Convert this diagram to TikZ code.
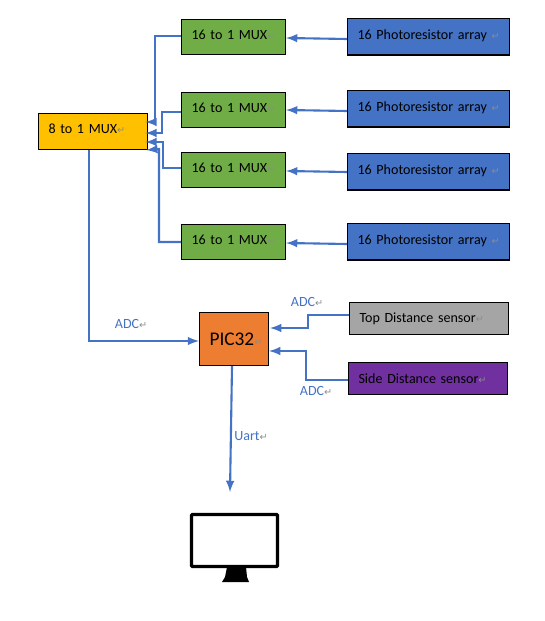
\documentclass[tikz,border=0pt]{standalone}
\usepackage{fontspec}
\setmainfont{Carlito}
\newfontfamily\markfont{DejaVu Sans}
\newcommand{\retmark}{\makebox[0pt][l]{\markfont\fontsize{5.5pt}{6pt}\selectfont\textcolor{black!45}{↵}}}
\definecolor{muxgreen}{HTML}{70AD47}
\definecolor{muxyellow}{HTML}{FFC000}
\definecolor{arrayblue}{HTML}{4472C4}
\definecolor{picorange}{HTML}{ED7D31}
\definecolor{topgray}{HTML}{A5A5A5}
\definecolor{sidepurple}{HTML}{7030A0}
\definecolor{linkblue}{HTML}{4472C4}
\begin{document}
\begin{tikzpicture}[x=0.02cm,y=-0.02cm]
	\tikzstyle{every node}=[font=\fontsize{8pt}{10pt}\selectfont]
	\tikzstyle{blockbox}=[draw=black, line width=0.6pt, anchor=north west, inner xsep=0.2cm, inner ysep=0cm, align=left]
	\tikzstyle{muxbox}=[blockbox, fill=muxgreen, text width=1.68cm, minimum height=0.7cm, text depth=0.08cm]
	\tikzstyle{arraybox}=[blockbox, fill=arrayblue, text width=2.84cm, minimum height=0.73cm, text depth=0.1cm]
	\tikzstyle{sensorbox}=[blockbox, text width=2.78cm, minimum height=0.64cm]
	\tikzstyle{link}=[draw=linkblue, line width=1.2pt, -latex]
	\tikzstyle{linklabel}=[text=linkblue, inner sep=0pt]
	
	\useasboundingbox (0,0) rectangle (544,621);
	
	\node[muxbox] (mux1) at (181,19) {16 to 1 MUX\retmark};
	\node[muxbox] (mux2) at (181,92) {16 to 1 MUX\retmark};
	\node[muxbox] (mux3) at (181,152) {16 to 1 MUX\retmark};
	\node[muxbox] (mux4) at (181,224) {16 to 1 MUX\retmark};
	
	\node[arraybox] (array1) at (347,18) {16 Photoresistor array\ \retmark};
	\node[arraybox] (array2) at (347,90) {16 Photoresistor array\ \retmark};
	\node[arraybox] (array3) at (347,153) {16 Photoresistor array\ \retmark};
	\node[arraybox] (array4) at (347,223) {16 Photoresistor array\ \retmark};
	
	\node[blockbox, fill=muxyellow, text width=1.78cm, minimum height=0.72cm, text depth=0.12cm] (mainmux) at (38,113) {8 to 1 MUX\retmark};
	\node[blockbox, fill=picorange, text width=0.98cm, minimum height=1.06cm, font=\fontsize{11pt}{12pt}\selectfont] (pic) at (199,312) {PIC32\retmark};
	\node[sensorbox, fill=topgray] (topsensor) at (349,302) {Top Distance sensor\retmark};
	\node[sensorbox, fill=sidepurple] (sidesensor) at (348,362) {Side Distance sensor\retmark};
	
	\draw[link] (array1.west |- 0,39) -- (mux1.east |- 0,38);
	\draw[link] (array2.west |- 0,111) -- (mux2.east |- 0,110);
	\draw[link] (array3.west |- 0,172) -- (mux3.east |- 0,171);
	\draw[link] (array4.west |- 0,244) -- (mux4.east |- 0,243);
	
	\draw[link] (mux1.west |- 0,36) -- (155,36) -- (155,122) -- ([xshift=-1.5pt]mainmux.east |- 0,122);
	\draw[link] (mux2.west |- 0,112) -- (162,112) -- (162,133) -- ([xshift=-1.5pt]mainmux.east |- 0,133);
	\draw[link] (mux3.west |- 0,168) -- (163,168) -- (163,142) -- ([xshift=-1.5pt]mainmux.east |- 0,142);
	\draw[link] (mux4.west |- 0,242) -- (159,242) -- (159,149) -- ([xshift=-1pt]mainmux.south east);
	
	\draw[link] (mainmux.south -| 89,0) -- (89,341) -- (pic.west |- 0,341);
	\draw[link] (topsensor.west |- 0,315) -- (308,315) -- (308,328) -- (270,328);
	\draw[link] (sidesensor.west |- 0,380) -- (306,380) -- (306,351) -- (pic.east |- 0,351);
	
	\coordinate (uartend) at (230,492);
	\draw[link] (pic.south -| 232,0) -- (uartend);
	
	\node[linklabel] (adcmux) at (127,324) {ADC\retmark};
	\node[linklabel] (adctop) at (303,302) {ADC\retmark};
	\node[linklabel] (adcside) at (312,391) {ADC\retmark};
	\node[linklabel] (uartlabel) at (247,436) {Uart\retmark};
	
	% monitor
	\draw[line width=1.9pt, rounded corners=0.02cm, fill=white] (191.5,514.5) rectangle (277.5,566.5);
	\fill[black] (227,567) -- (246,567) -- (247,577) -- (249,582) -- (222,582) -- (225,577) -- cycle;
	
\end{tikzpicture}
\end{document}
